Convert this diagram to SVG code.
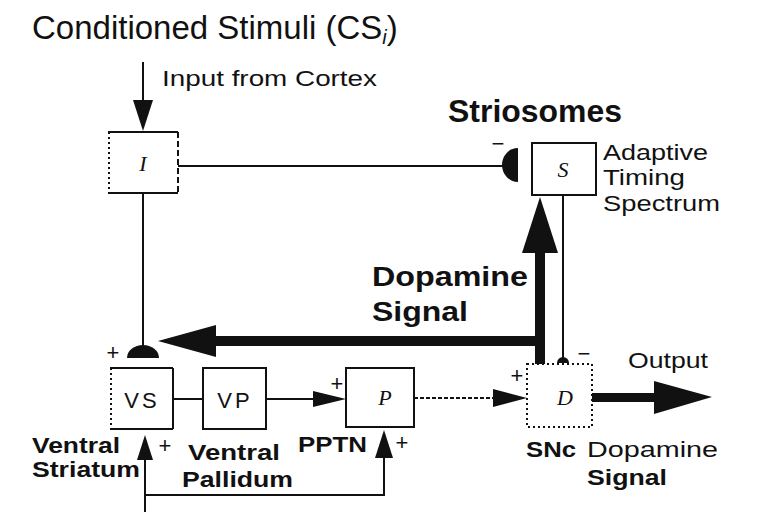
<svg xmlns="http://www.w3.org/2000/svg" width="773" height="512" viewBox="0 0 773 512">
<style>
  .box{fill:#fff;stroke:#111;stroke-width:2}
  .dot{stroke-dasharray:2,3}
  .ln{fill:none;stroke:#111;stroke-width:2}
  .fill{fill:#111;stroke:none}
  .sans{font-family:"Liberation Sans",Arial,sans-serif;fill:#111}
  .bold{font-family:"Liberation Sans",Arial,sans-serif;font-weight:bold;fill:#111}
  .var{font-family:"Liberation Serif","Times New Roman",serif;font-style:italic;fill:#111;text-anchor:middle}
  .sign{font-family:"Liberation Sans",Arial,sans-serif;fill:#111;text-anchor:middle;font-size:22px}
</style>
<rect width="773" height="512" fill="#fff"/>

<text class="sans" x="32" y="39" font-size="33">Conditioned Stimuli (CS<tspan font-size="20" font-style="italic" dy="5">i</tspan><tspan dy="-5">)</tspan></text>
<text class="sans" x="162" y="86" font-size="22" textLength="215" lengthAdjust="spacingAndGlyphs">Input from Cortex</text>

<g id="connectors">
  <!-- input from cortex -->
  <line class="ln" x1="143" y1="62" x2="143" y2="102"/>
  <polygon class="fill" points="133,100 153,100 143,131"/>
  <!-- I to S inhibitory -->
  <line class="ln" x1="178" y1="166" x2="505" y2="166"/>
  <path class="fill" d="M518,148 A16,17 0 0 0 518,182 Z"/>
  <text class="sign" x="498" y="151" font-size="24">−</text>
  <!-- I to VS -->
  <line class="ln" x1="143" y1="193" x2="143" y2="348"/>
  <path class="fill" d="M127,358 A16,13 0 0 1 159,358 Z"/>
  <text class="sign" x="113" y="360">+</text>
  <!-- S to D inhibitory -->
  <line class="ln" x1="563" y1="195" x2="563" y2="358"/>
  <path class="fill" d="M557,363 A6,6 0 0 1 569,363 Z"/>
  <text class="sign" x="584" y="361" font-size="24">−</text>
  <!-- Dopamine signal -->
  <rect class="fill" x="535" y="250" width="10" height="114"/>
  <polygon class="fill" points="522,253 558,253 540,197"/>
  <rect class="fill" x="212" y="336" width="333" height="10"/>
  <polygon class="fill" points="216,325 216,357 158,341"/>
  <!-- VS - VP -->
  <line class="ln" x1="173" y1="399" x2="203" y2="399"/>
  <!-- VP to P -->
  <line class="ln" x1="266" y1="399" x2="316" y2="399"/>
  <polygon class="fill" points="313,391 313,407 346,399"/>
  <text class="sign" x="337" y="391">+</text>
  <!-- P to D -->
  <line class="ln" x1="414" y1="398" x2="496" y2="398" stroke-dasharray="4,2"/>
  <polygon class="fill" points="493,389 493,407 527,398"/>
  <text class="sign" x="517" y="383">+</text>
  <!-- Output -->
  <rect class="fill" x="592" y="393" width="64" height="9"/>
  <polygon class="fill" points="654,381 654,414 712,397"/>
  <!-- feedback from below -->
  <polyline class="ln" points="145,512 145,458"/>
  <polyline class="ln" points="145,495 384,495 384,456"/>
  <polygon class="fill" points="137,460 153,460 145,435"/>
  <text class="sign" x="165" y="453">+</text>
  <polygon class="fill" points="375,458 393,458 384,430"/>
  <text class="sign" x="402" y="450">+</text>
</g>

<g id="node-I">
  <line class="ln" x1="108" y1="132" x2="178" y2="132"/>
  <line class="ln" x1="108" y1="193" x2="178" y2="193"/>
  <line class="ln dot" x1="109" y1="132" x2="109" y2="193"/>
  <line class="ln" x1="178" y1="132" x2="178" y2="193" stroke-dasharray="6,3"/>
  <text class="var" x="143" y="171" font-size="22">I</text>
</g>

<g id="node-S">
  <rect class="box" x="532" y="143" width="64" height="52"/>
  <text class="var" x="563" y="177" font-size="22">S</text>
  <text class="bold" x="448" y="122" font-size="31" textLength="174" lengthAdjust="spacingAndGlyphs">Striosomes</text>
  <text class="sans" x="603" y="160" font-size="22" textLength="105" lengthAdjust="spacingAndGlyphs">Adaptive</text>
  <text class="sans" x="603" y="185" font-size="22" textLength="82" lengthAdjust="spacingAndGlyphs">Timing</text>
  <text class="sans" x="603" y="211" font-size="22" textLength="117" lengthAdjust="spacingAndGlyphs">Spectrum</text>
</g>

<g id="label-dopamine">
  <text class="bold" x="372" y="286" font-size="27" textLength="156" lengthAdjust="spacingAndGlyphs">Dopamine</text>
  <text class="bold" x="372" y="321" font-size="27" textLength="96" lengthAdjust="spacingAndGlyphs">Signal</text>
</g>

<g id="node-VS">
  <line class="ln" x1="110" y1="368" x2="173" y2="368"/>
  <line class="ln" x1="110" y1="429" x2="173" y2="429"/>
  <line class="ln" x1="173" y1="368" x2="173" y2="429"/>
  <line class="ln dot" x1="111" y1="368" x2="111" y2="429"/>
  <text class="sans" x="142" y="408" font-size="22" text-anchor="middle" letter-spacing="3">VS</text>
  <text class="bold" x="32" y="453" font-size="22" textLength="88" lengthAdjust="spacingAndGlyphs">Ventral</text>
  <text class="bold" x="32" y="477" font-size="22" textLength="108" lengthAdjust="spacingAndGlyphs">Striatum</text>
</g>

<g id="node-VP">
  <rect class="box" x="203" y="368" width="63" height="61"/>
  <text class="sans" x="235" y="408" font-size="22" text-anchor="middle" letter-spacing="3">VP</text>
  <text class="bold" x="188" y="460" font-size="22" textLength="92" lengthAdjust="spacingAndGlyphs">Ventral</text>
  <text class="bold" x="182" y="487" font-size="22" textLength="111" lengthAdjust="spacingAndGlyphs">Pallidum</text>
</g>

<g id="node-P">
  <rect class="box" x="346" y="368" width="68" height="59"/>
  <text class="var" x="385" y="405" font-size="22">P</text>
  <text class="bold" x="298" y="452" font-size="22" textLength="69" lengthAdjust="spacingAndGlyphs">PPTN</text>
</g>

<g id="node-D">
  <rect class="box dot" x="527" y="364" width="65" height="63"/>
  <text class="var" x="565" y="405" font-size="22">D</text>
  <text class="sans" x="628" y="368" font-size="22" textLength="80" lengthAdjust="spacingAndGlyphs">Output</text>
  <text class="bold" x="526" y="457" font-size="22" textLength="50" lengthAdjust="spacingAndGlyphs">SNc</text>
  <text class="sans" x="587" y="457" font-size="22" textLength="131" lengthAdjust="spacingAndGlyphs">Dopamine</text>
  <text class="bold" x="587" y="485" font-size="22" textLength="80" lengthAdjust="spacingAndGlyphs">Signal</text>
</g>
</svg>
